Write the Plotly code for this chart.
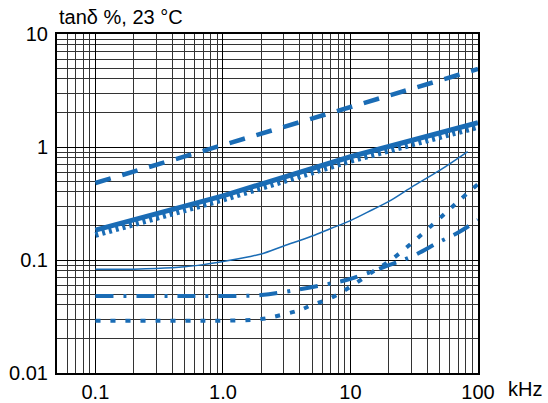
import plotly.graph_objects as go
import math

BLUE = "#1a6cb5"

# Frequency (kHz) / tan delta (%) readings
dash_f = [0.1, 1.0, 10, 100]
dash_v = [0.48, 1.04, 2.25, 4.9]

solid_f = [0.1, 1.0, 10, 100]
solid_v = [0.184, 0.37, 0.82, 1.64]

comb_f = [0.1, 1.0, 10, 100]
comb_v = [0.167, 0.343, 0.755, 1.51]

thin_f = [0.1, 0.2, 0.3, 0.5, 0.7, 1.0, 1.6, 2, 3, 5, 7, 10, 15, 20, 30, 50, 83]
thin_v = [0.083, 0.083, 0.084, 0.087, 0.091, 0.097, 0.107, 0.113, 0.133, 0.163, 0.19, 0.223, 0.28, 0.33, 0.44, 0.62, 0.91]

dd_f = [0.1, 0.5, 1, 2, 4, 7, 10, 20, 30, 50, 70, 100]
dd_v = [0.048, 0.048, 0.048, 0.049, 0.055, 0.062, 0.068, 0.09, 0.107, 0.145, 0.175, 0.226]

dot_f = [0.1, 0.5, 1, 2, 3, 4, 5, 7, 10, 15, 20, 30, 50, 70, 100]
dot_v = [0.029, 0.029, 0.029, 0.030, 0.033, 0.036, 0.040, 0.046, 0.058, 0.079, 0.097, 0.14, 0.234, 0.33, 0.47]

x_ticks = [0.1, 1, 10, 100]
x_text = ["0.1", "1.0", "10", "100"]
y_ticks = [0.01, 0.1, 1, 10]
y_text = ["0.01", "0.1", "1", "10"]

minor_vals = [m * 10 ** e for e in range(-3, 3) for m in range(2, 10)]

fig = go.Figure()
fig.add_trace(go.Scatter(x=dash_f, y=dash_v, mode="lines",
                         line=dict(color=BLUE, width=4.5, dash="16px,12px")))
fig.add_trace(go.Scatter(x=comb_f, y=comb_v, mode="lines",
                         line=dict(color=BLUE, width=6, dash="3px,4px")))
fig.add_trace(go.Scatter(x=solid_f, y=solid_v, mode="lines",
                         line=dict(color=BLUE, width=5)))
fig.add_trace(go.Scatter(x=thin_f, y=thin_v, mode="lines", line_shape="spline",
                         line=dict(color=BLUE, width=1.5)))
fig.add_trace(go.Scatter(x=dd_f, y=dd_v, mode="lines", line_shape="spline",
                         line=dict(color=BLUE, width=4, dash="18px,10px,3px,10px")))
fig.add_trace(go.Scatter(x=dot_f, y=dot_v, mode="lines", line_shape="spline",
                         line=dict(color=BLUE, width=4, dash="5px,10px")))

FONT = "Liberation Sans, Arial, Helvetica, sans-serif"

axis_common = dict(
    type="log", automargin=False,
    showgrid=True, gridcolor="black", gridwidth=1.3,
    showline=True, linecolor="black", linewidth=2, mirror=True,
    ticks="", zeroline=False,
    tickfont=dict(family=FONT, size=20, color="black"),
    minor=dict(tickvals=minor_vals, showgrid=True, gridcolor="#333333", gridwidth=1, ticks=""),
)

fig.update_xaxes(range=[math.log10(0.05), 2], tickvals=x_ticks, ticktext=x_text,
                 **axis_common)
fig.update_yaxes(range=[-2, 1], tickvals=y_ticks, ticktext=y_text,
                 ticklabelstandoff=3, **axis_common)

fig.add_annotation(text="tanδ %, 23 °C", xref="paper", yref="paper", x=0, y=1,
                   xanchor="left", yanchor="bottom", yshift=4, showarrow=False,
                   font=dict(family=FONT, size=20, color="black"))
fig.add_annotation(text="kHz", xref="x", yref="paper", x=2, y=0,
                   xanchor="left", yanchor="top", xshift=28, yshift=-3, showarrow=False,
                   font=dict(family=FONT, size=20, color="black"))

fig.update_layout(
    width=548, height=403,
    margin=dict(l=57, r=70, t=34, b=30),
    paper_bgcolor="white", plot_bgcolor="white",
    showlegend=False,
)

fig.write_html("out.html")
